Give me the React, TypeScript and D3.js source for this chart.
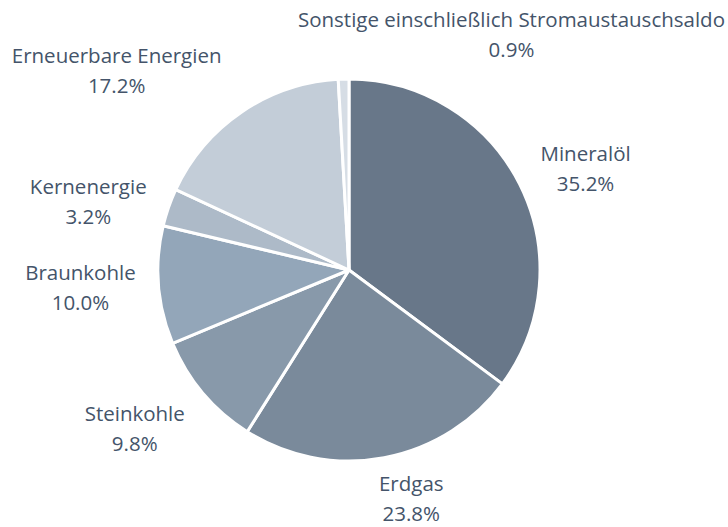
import React from 'react';
import * as d3 from 'd3';

// Primärenergieverbrauch nach Energieträgern (Anteile in %)
const categories = [
  'Mineralöl',
  'Erdgas',
  'Steinkohle',
  'Braunkohle',
  'Kernenergie',
  'Erneuerbare Energien',
  'Sonstige einschließlich Stromaustauschsaldo',
];
const shares = [35.2, 23.8, 9.8, 10.0, 3.2, 17.2, 0.9];
const colors = ['#687789', '#7a8a9b', '#8899aa', '#93a6b9', '#adbac8', '#c3cdd8', '#d6dde5'];

const width = 728;
const height = 527;
const cx = 349;
const cy = 270;
const radius = 191;
const fontSize = 20.5;
const lineH = 30;
const fontFamily = '"Open Sans", Lato, sans-serif';
const textColor = '#44546a';

let ctx: CanvasRenderingContext2D | null = null;
function measure(s: string) {
  if (!ctx) ctx = document.createElement('canvas').getContext('2d');
  if (!ctx) return s.length * fontSize * 0.55;
  ctx.font = `${fontSize}px ${fontFamily}`;
  return ctx.measureText(s).width;
}

export default function App() {
  const data = categories.map((name, i) => ({ name, value: shares[i], color: colors[i] }));

  const pie = d3.pie<any>().sort(null).value(d => d.value);
  const arcs = pie(data);
  const arc = d3.arc<any>().innerRadius(0).outerRadius(radius);

  // labels sit just outside the pie, box pulled away from the anchor point
  const labelR = radius + 20;
  const boxH = 50;
  const labels = arcs.map(a => {
    const ang = (a.startAngle + a.endAngle) / 2;
    const s = Math.sin(ang);
    const c = Math.cos(ang);
    const pct = d3.format('.1f')(a.data.value) + '%';
    const w = Math.max(measure(a.data.name), measure(pct));
    const px = cx + labelR * s;
    const py = cy - labelR * c;
    const fx = Math.max(-1, Math.min(1, s * 3.6));
    const fy = Math.sign(-c) * Math.max(0, Math.min(1, (Math.abs(c) - 0.35) * 3));
    let x = px + fx * (w / 2 + 3);
    const y = py + fy * boxH / 2 + 3;
    let anchor: 'middle' | 'end' = 'middle';
    if (a.data.value < 2) {
      // tiny slice: label pushed to the right edge
      anchor = 'end';
      x = width - 3;
    } else {
      const top = y - boxH / 2;
      const bot = y + boxH / 2;
      const clear = (xx: number) => {
        const nx = Math.max(xx - w / 2, Math.min(cx, xx + w / 2));
        const ny = Math.max(top, Math.min(cy, bot));
        return Math.hypot(nx - cx, ny - cy) >= radius + 8;
      };
      let guard = 0;
      while (!clear(x) && guard++ < 300) x += s >= 0 ? 1 : -1;
      if (Math.abs(fx) === 1 && Math.abs(fy) === 1) x += Math.sign(s) * 6;
    }
    const cxText = anchor === 'end' ? x - measure(a.data.name) / 2 : x;
    const b2 = Math.min(y + 20, height - 6);
    return { key: a.data.name, x: cxText, b1: b2 - lineH, b2, name: a.data.name, pct };
  });

  return (
    <svg width={width} height={height} style={{ position: 'absolute', left: 0, top: 0, background: '#fff' }}>
      <g transform={`translate(${cx},${cy})`}>
        {arcs.map(a => (
          <path key={a.data.name} d={arc(a) || ''} fill={a.data.color} stroke="#fff" strokeWidth={3} strokeLinejoin="round" />
        ))}
      </g>
      <g fontFamily={fontFamily} fontSize={fontSize} fill={textColor}>
        {labels.map(l => (
          <text key={l.key} textAnchor="middle">
            <tspan x={l.x} y={l.b1}>{l.name}</tspan>
            <tspan x={l.x} y={l.b2}>{l.pct}</tspan>
          </text>
        ))}
      </g>
    </svg>
  );
}
